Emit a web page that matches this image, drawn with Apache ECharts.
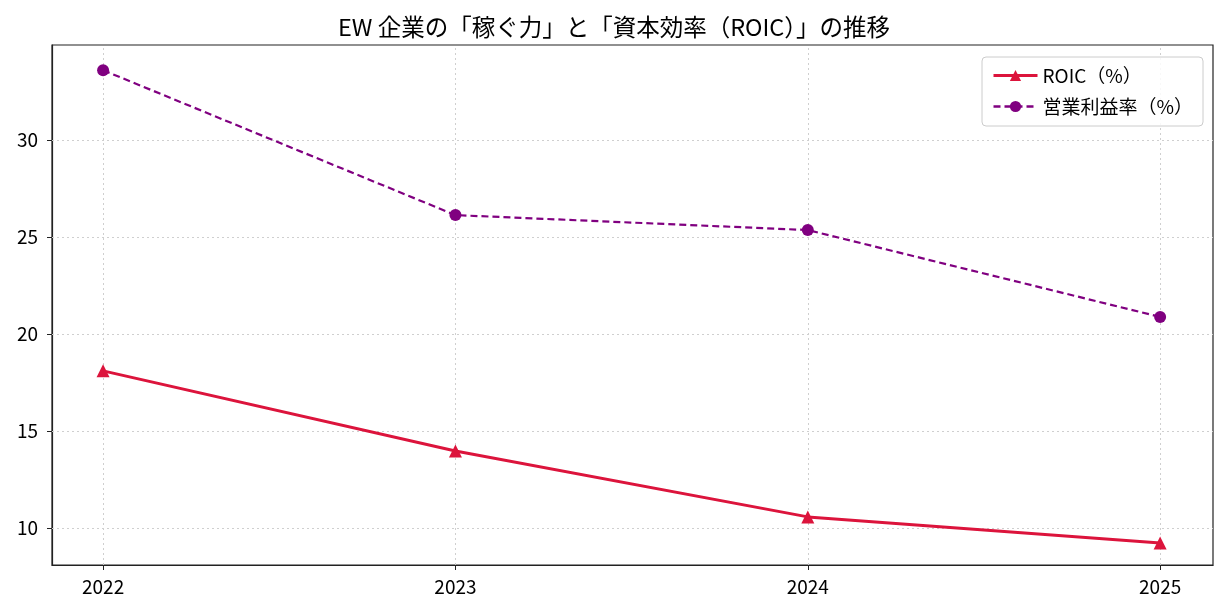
<!DOCTYPE html>
<html>
<head>
<meta charset="utf-8">
<script src="https://cdn.jsdelivr.net/npm/echarts@6/dist/echarts.min.js"></script>
<style>
  html, body { margin: 0; padding: 0; background: #fff; }
  #chart { width: 1228px; height: 616px; }
</style>
</head>
<body>
<div id="chart"></div>
<script>
// values
var years = [2022, 2023, 2024, 2025];
var roic = [18.1, 13.97, 10.57, 9.23];
var opMargin = [33.6, 26.13, 25.36, 20.88];
var yTicks = [10, 15, 20, 25, 30];

var font = '"Noto Sans CJK JP", "Noto Sans", sans-serif';
var myChart = echarts.init(document.getElementById('chart'));

function pairs(vals) {
  return years.map(function (y, i) { return [y, vals[i]]; });
}

var gridLines = years.map(function (y) { return { xAxis: y }; })
  .concat(yTicks.map(function (v) { return { yAxis: v }; }));

var option = {
  animation: false,
  backgroundColor: '#fff',
  textStyle: { fontFamily: font },
  title: {
    text: 'EW 企業の「稼ぐ力」と「資本効率（ROIC）」の推移',
    left: 'center',
    top: 10,
    textStyle: { fontFamily: font, fontSize: 23.5, fontWeight: 'normal', color: '#000' }
  },
  grid: {
    left: 52, right: 15, top: 45, bottom: 51,
    show: true, borderColor: '#222', borderWidth: 1.2
  },
  legend: {
    orient: 'vertical',
    right: 25,
    top: 57,
    itemWidth: 44,
    itemHeight: 14,
    itemGap: 12,
    padding: [9, 10, 10, 10],
    borderColor: '#ccc',
    borderWidth: 1,
    borderRadius: 4,
    backgroundColor: 'rgba(255,255,255,0.85)',
    textStyle: { fontFamily: font, fontSize: 19, color: '#000' },
    data: [
      { name: 'ROIC（%）', lineStyle: { width: 3 } },
      { name: '営業利益率（%）', lineStyle: { width: 2.4 } }
    ]
  },
  xAxis: {
    type: 'value',
    min: 2021.855,
    max: 2025.15,
    axisLine: { lineStyle: { color: '#222', width: 1.2 } },
    axisTick: { show: true, length: 5, customValues: years, lineStyle: { color: '#222' } },
    axisLabel: {
      customValues: years, margin: 12, fontSize: 19, color: '#000', fontFamily: font,
      formatter: function (v) { return String(v); }
    },
    splitLine: { show: false }
  },
  yAxis: {
    type: 'value',
    min: 8.09,
    max: 34.9,
    axisLine: { show: true, lineStyle: { color: '#222', width: 1.2 } },
    axisTick: { show: true, length: 5, customValues: yTicks, lineStyle: { color: '#222' } },
    axisLabel: { customValues: yTicks, margin: 14, fontSize: 19, color: '#000', fontFamily: font },
    splitLine: { show: false }
  },
  series: [
    {
      name: 'ROIC（%）',
      type: 'line',
      data: pairs(roic),
      color: '#DC143C',
      symbol: 'triangle',
      symbolSize: 13,
      lineStyle: { width: 3, color: '#DC143C' },
      itemStyle: { color: '#DC143C' },
      z: 4,
      markLine: {
        silent: true,
        symbol: 'none',
        label: { show: false },
        lineStyle: { color: '#cfcfcf', type: [2, 3], width: 1 },
        data: gridLines,
        z: 1
      }
    },
    {
      name: '営業利益率（%）',
      type: 'line',
      data: pairs(opMargin),
      color: '#800080',
      symbol: 'circle',
      symbolSize: 12,
      lineStyle: { width: 2.2, type: [7, 4], color: '#800080' },
      itemStyle: { color: '#800080' },
      z: 3
    }
  ]
};

option && myChart.setOption(option);
</script>
</body>
</html>
